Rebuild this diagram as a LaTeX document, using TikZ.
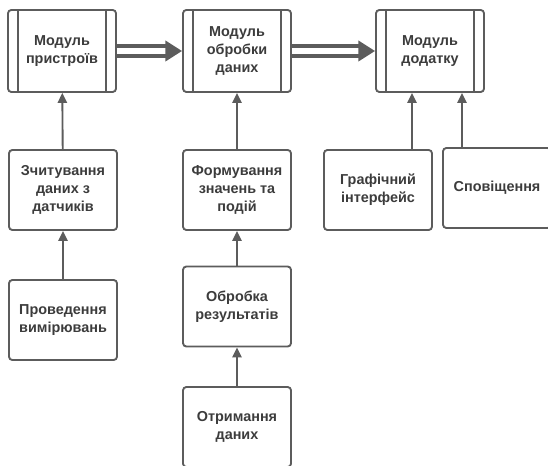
\documentclass[tikz,border=0pt]{standalone}
\usepackage{fontspec}
\setmainfont{Liberation Sans}
\usetikzlibrary{calc,arrows.meta}
\definecolor{linegray}{RGB}{92,92,92}
\definecolor{textgray}{RGB}{60,60,60}
\tikzset{
	block/.style={draw=linegray, line width=1.4pt, rounded corners=2.5pt, fill=white,
		minimum width=81pt, minimum height=60pt, align=center, text=textgray,
		font=\fontsize{10.8}{13.5}\selectfont\bfseries},
	module/.style={block, minimum height=61.5pt},
	uparrow/.style={draw=linegray, line width=1.4pt, -{Triangle[length=7.5pt, width=7pt]}},
	dblarrow/.style={draw=linegray, line width=2.8pt, double=white, double distance=4.2pt,
		-{Triangle[length=12.5pt, width=15pt]}}
}
\def\bars#1{\draw[linegray, line width=1.4pt] ($(#1.north west)+(11,0)$) -- ($(#1.south west)+(11,0)$);
	\draw[linegray, line width=1.4pt] ($(#1.north east)+(-11,0)$) -- ($(#1.south east)+(-11,0)$);}

\begin{document}
\begin{tikzpicture}[x=0.75pt, y=-0.75pt]
		%%%%% START %%%%%
		\path[use as bounding box, clip] (0,0) rectangle (548,466);
		
		% modules
		\node[module] (devices) at (62, 51) {Модуль\\пристроїв};
		\node[module] (processing) at (237, 51) {Модуль\\обробки\\даних};
		\node[module] (app) at (430, 51) {Модуль\\додатку};
		\bars{devices}
		\bars{processing}
		\bars{app}
		
		\draw[dblarrow] (devices) -- (processing);
		\draw[dblarrow] (processing) -- (app);
		
		% left column
		\node[block] (reading) at (63, 190) {Зчитування\\даних з\\датчиків};
		\node[block] (measuring) at (63, 320) {Проведення\\вимірювань};
		\draw[uparrow] (reading) -- (devices);
		\draw[uparrow] (measuring) -- (reading);
		
		% middle column
		\node[block] (forming) at (237, 190) {Формування\\значень та\\подій};
		\node[block] (results) at (237, 306.5) {Обробка\\результатів};
		\node[block] (receiving) at (237, 427) {Отримання\\даних};
		\draw[uparrow] (forming) -- (processing);
		\draw[uparrow] (results) -- (forming);
		\draw[uparrow] (receiving) -- (results);
		
		% right column
		\node[block] (gui) at (378, 190) {Графічний\\інтерфейс};
		\node[block] (notify) at (497, 188) {Сповіщення};
		\coordinate (guitop) at ($(gui.north)+(34,0)$);
		\coordinate (notifytop) at ($(notify.north)+(-35,0)$);
		\draw[uparrow] (guitop) -- (guitop |- app.south);
		\draw[uparrow] (notifytop) -- (notifytop |- app.south);
		
		%%%%% END %%%%%
	\end{tikzpicture}
\end{document}
